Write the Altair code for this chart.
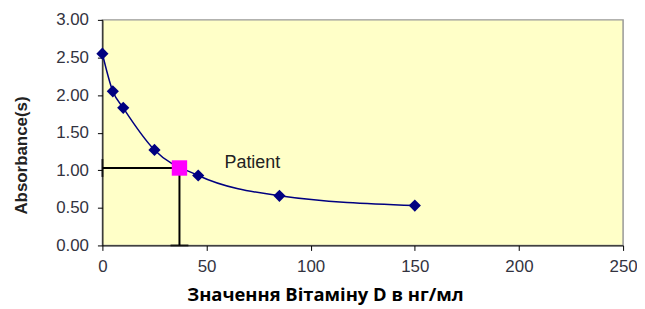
import altair as alt
import pandas as pd

conc = [0, 5, 10, 25, 46, 85, 150]
absorb = [2.55, 2.05, 1.83, 1.27, 0.93, 0.66, 0.53]
patient_x = [37]
patient_y = [1.03]
label_x = [72]
label_y = [1.09]
label_text = ["Patient"]
x_ticks = [0, 50, 100, 150, 200, 250]
y_ticks = [0, 0.5, 1, 1.5, 2, 2.5, 3]

std = pd.DataFrame({"x": conc, "y": absorb})
pat = pd.DataFrame({"x": patient_x, "y": patient_y, "x0": [0], "y0": [0]})
lab = pd.DataFrame({"x": label_x, "y": label_y, "t": label_text})

xs = alt.Scale(domain=[0, 250], nice=False)
ys = alt.Scale(domain=[0, 3], nice=False)

xax = alt.Axis(values=x_ticks, title="Значення Вітаміну D в нг/мл",
               grid=False, domainColor="black", tickColor="black", tickSize=5,
               labelFont="Liberation Sans", labelFontSize=17, labelColor="#333340",
               labelFlush=False, labelOverlap=False, labelPadding=8,
               titleFont="Open Sans", titleFontSize=18.5, titleFontWeight="bold",
               titleColor="black", titleX=224, titleY=55, titleAlign="center",
               titleBaseline="alphabetic")
yax = alt.Axis(values=y_ticks, format=".2f", title="Absorbance(s)",
               grid=False, domainColor="black", tickColor="black", tickSize=5,
               labelFont="Liberation Sans", labelFontSize=17, labelColor="#333340",
               labelFlush=False, labelOverlap=False, labelPadding=9,
               titleFont="Liberation Sans", titleFontSize=17, titleFontWeight="bold",
               titleColor="#222222", titleX=-81, titleY=136, titleAlign="center",
               titleBaseline="middle", titleAngle=270)

X = alt.X("x:Q", scale=xs, axis=xax)
Y = alt.Y("y:Q", scale=ys, axis=yax)

line = alt.Chart(std).mark_line(color="#000080", strokeWidth=1.5, interpolate="monotone").encode(x=X, y=Y)
pts = alt.Chart(std).mark_point(shape="diamond", filled=True, color="#000080", size=150, opacity=1).encode(x=X, y=Y)

hline = alt.Chart(pat).mark_rule(color="black", strokeWidth=2).encode(
    x=alt.X("x0:Q", scale=xs, axis=xax), x2="x", y=Y)
vline = alt.Chart(pat).mark_rule(color="black", strokeWidth=2).encode(
    x=X, y=alt.Y("y0:Q", scale=ys, axis=yax), y2="y")
hcap = alt.Chart(pat).mark_tick(color="black", thickness=2, size=18, orient="vertical").encode(
    x=alt.X("x0:Q", scale=xs, axis=xax), y=Y)
vcap = alt.Chart(pat).mark_tick(color="black", thickness=2, size=18, orient="horizontal").encode(
    x=X, y=alt.Y("y0:Q", scale=ys, axis=yax))
psq = alt.Chart(pat).mark_square(color="#FF00FF", size=240, opacity=1).encode(x=X, y=Y)
txt = alt.Chart(lab).mark_text(font="Liberation Sans", fontSize=18, color="#222222").encode(
    x=X, y=Y, text="t:N")

chart = alt.layer(line, hline, vline, hcap, vcap, pts, psq, txt).properties(
    width=524, height=227,
    autosize=alt.AutoSizeParams(type="none"),
    padding={"left": 95, "top": 11, "right": 14, "bottom": 60},
).configure_view(fill="#FFFFC8", stroke="#999999", strokeWidth=1.5)

chart.save("out.html", embed_options={"renderer": "svg", "actions": False})
